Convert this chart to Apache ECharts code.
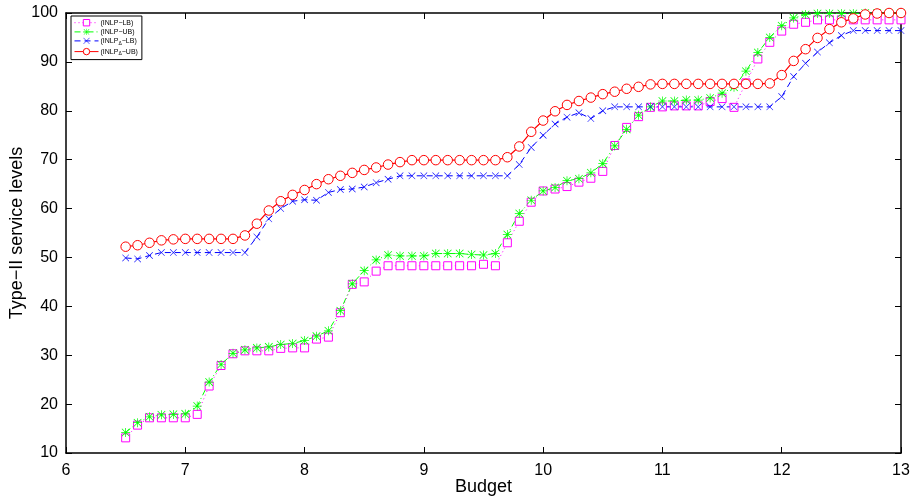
<!DOCTYPE html>
<html>
<head>
<meta charset="utf-8">
<script src="https://cdn.jsdelivr.net/npm/echarts@6/dist/echarts.min.js"></script>
<style>
    html, body { margin: 0; padding: 0; background: #fff; }
    #chart { width: 919px; height: 499px; }
</style>
</head>
<body>
<div id="chart"></div>
<script>
    // budget values 6.5 .. 13.0
    const budget = [
        6.5, 6.6, 6.7, 6.8, 6.9, 7.0, 7.1, 7.2, 7.3, 7.4, 7.5, 7.6, 7.7, 7.8, 7.9,
        8.0, 8.1, 8.2, 8.3, 8.4, 8.5, 8.6, 8.7, 8.8, 8.9, 9.0, 9.1, 9.2, 9.3, 9.4,
        9.5, 9.6, 9.7, 9.8, 9.9, 10.0, 10.1, 10.2, 10.3, 10.4, 10.5, 10.6, 10.7, 10.8, 10.9,
        11.0, 11.1, 11.2, 11.3, 11.4, 11.5, 11.6, 11.7, 11.8, 11.9, 12.0, 12.1, 12.2, 12.3, 12.4,
        12.5, 12.6, 12.7, 12.8, 12.9, 13.0
    ];
    const inlpLB = [
        13.1, 15.7, 17.2, 17.2, 17.2, 17.2, 17.9, 23.7, 27.9, 30.3, 30.9, 30.9, 30.9, 31.4, 31.5,
        31.5, 33.3, 33.7, 38.7, 44.5, 45.0, 47.2, 48.3, 48.3, 48.3, 48.3, 48.3, 48.3, 48.3, 48.3,
        48.6, 48.3, 53.0, 57.4, 61.3, 63.6, 64.0, 64.5, 65.4, 66.2, 67.6, 72.9, 76.6, 78.8, 80.7,
        80.8, 81.0, 81.0, 81.0, 81.9, 82.5, 80.7, 85.7, 90.6, 94.0, 96.3, 97.7, 98.1, 98.6, 98.6,
        98.6, 98.6, 98.6, 98.6, 98.6, 98.6
    ];
    const inlpUB = [
        14.2, 16.2, 17.4, 17.8, 17.9, 18.0, 19.6, 24.5, 28.1, 30.4, 31.1, 31.5, 31.7, 32.2, 32.4,
        33.0, 33.9, 35.0, 39.1, 44.6, 47.3, 49.5, 50.5, 50.3, 50.3, 50.3, 50.8, 50.8, 50.8, 50.6,
        50.5, 50.8, 54.7, 59.0, 61.7, 63.6, 64.3, 65.7, 66.1, 67.3, 69.2, 72.8, 76.2, 79.1, 80.8,
        82.0, 82.0, 82.2, 82.2, 82.6, 83.6, 84.8, 88.1, 91.9, 95.0, 97.4, 99.0, 99.7, 99.9, 99.9,
        99.9, 99.9, 100, 100, 100, 100
    ];
    const inlpDeltaLB = [
        49.9, 49.7, 50.4, 51.0, 51.0, 51.0, 51.0, 51.0, 51.0, 51.0, 51.0, 54.2, 57.9, 60.0, 61.5,
        61.8, 61.7, 63.3, 63.9, 64.0, 64.4, 65.3, 66.0, 66.7, 66.7, 66.7, 66.7, 66.7, 66.7, 66.7,
        66.7, 66.7, 66.7, 69.0, 72.5, 75.0, 77.3, 78.7, 79.6, 78.4, 80.0, 80.8, 80.8, 80.8, 80.8,
        80.8, 80.8, 80.8, 80.8, 80.8, 80.8, 80.8, 80.8, 80.8, 80.8, 82.9, 87.0, 89.7, 92.0, 93.9,
        95.4, 96.4, 96.4, 96.4, 96.4, 96.4
    ];
    const inlpDeltaUB = [
        52.2, 52.5, 53.0, 53.5, 53.7, 53.8, 53.8, 53.8, 53.8, 53.8, 54.5, 56.9, 59.6, 61.5, 62.8,
        63.8, 65.0, 66.0, 66.7, 67.3, 67.9, 68.4, 69.0, 69.5, 69.9, 69.9, 69.9, 69.9, 69.9, 69.9,
        69.9, 69.9, 70.5, 72.7, 75.7, 78.0, 79.9, 81.2, 82.0, 82.7, 83.4, 83.9, 84.5, 84.9, 85.4,
        85.5, 85.5, 85.5, 85.5, 85.5, 85.5, 85.5, 85.5, 85.5, 85.6, 87.3, 90.2, 92.6, 94.9, 96.7,
        98.1, 98.9, 99.7, 99.9, 100, 100
    ];
    const xTicks = [6, 7, 8, 9, 10, 11, 12, 13];
    const yTicks = [10, 20, 30, 40, 50, 60, 70, 80, 90, 100];

    const legendNames = {
        lb: '(INLP\u2212LB)',
        ub: '(INLP\u2212UB)',
        dlb: '(INLP{sub|\u0394}\u2212LB)',
        dub: '(INLP{sub|\u0394}\u2212UB)'
    };

    // asterisk and cross markers (matlab style)
    const starPath = 'path://M4.6 0 H5.4 V10 H4.6 Z M0 4.6 H10 V5.4 H0 Z M1.1 0.5 L9.5 8.9 L8.9 9.5 L0.5 1.1 Z M8.9 0.5 L9.5 1.1 L1.1 9.5 L0.5 8.9 Z';
    const crossPath = 'path://M0.6 0 L10 9.4 L9.4 10 L0 0.6 Z M9.4 0 L10 0.6 L0.6 10 L0 9.4 Z';

    const zip = ys => budget.map((x, i) => [x, ys[i]]);

    const font = '"Liberation Sans", Arial, sans-serif';

    const axisCommon = {
        type: 'value',
        nameMoveOverlap: false,
        axisLine: { show: true, onZero: false, lineStyle: { color: '#000', width: 1.5 } },
        axisTick: { show: true, inside: true, length: 6, lineStyle: { color: '#000', width: 1 } },
        splitLine: { show: false }
    };

    const chart = echarts.init(document.getElementById('chart'));
    chart.setOption({
        animation: false,
        backgroundColor: '#fff',
        grid: { left: 66, right: 18, top: 13, bottom: 46, outerBoundsMode: 'none' },
        legend: {
            orient: 'vertical',
            left: 71,
            top: 16,
            padding: [3, 4, 3, 3],
            itemGap: 2,
            itemWidth: 24,
            itemHeight: 8,
            borderColor: '#000',
            borderWidth: 1,
            backgroundColor: '#fff',
            lineStyle: { width: 1 },
            itemStyle: { borderWidth: 1 },
            formatter: n => legendNames[n],
            textStyle: {
                fontFamily: font, fontSize: 7, color: '#000', padding: [0, 0, 0, -3],
                rich: { sub: { fontSize: 5, padding: [5, 0, 0, 0], fontFamily: font, color: '#000' } }
            },
            data: ['lb', 'ub', 'dlb', 'dub']
        },
        xAxis: [
            Object.assign({}, axisCommon, {
                min: 6, max: 13, interval: 1,
                position: 'bottom',
                name: 'Budget',
                nameLocation: 'middle',
                nameGap: 25,
                nameTextStyle: { fontFamily: font, fontSize: 18, color: '#000' },
                axisLabel: { fontFamily: font, fontSize: 16, color: '#000', margin: 10,
                    customValues: xTicks }
            }),
            Object.assign({}, axisCommon, {
                min: 6, max: 13, interval: 1,
                position: 'top',
                axisLabel: { show: false }
            })
        ],
        yAxis: [
            Object.assign({}, axisCommon, {
                min: 10, max: 100, interval: 10,
                position: 'left',
                name: 'Type\u2212II service levels',
                nameLocation: 'middle',
                nameGap: 40,
                nameTextStyle: { fontFamily: font, fontSize: 18, color: '#000' },
                axisLabel: { fontFamily: font, fontSize: 16, color: '#000', margin: 8,
                    customValues: yTicks }
            }),
            Object.assign({}, axisCommon, {
                min: 10, max: 100, interval: 10,
                position: 'right',
                axisLabel: { show: false }
            })
        ],
        series: [
            {
                name: 'lb', type: 'line', data: zip(inlpLB),
                symbol: 'rect', symbolSize: 8,
                itemStyle: { color: '#fff', borderColor: '#ff00ff', borderWidth: 1 },
                lineStyle: { color: '#ff00ff', width: 1, type: [1, 3] }
            },
            {
                name: 'ub', type: 'line', data: zip(inlpUB),
                symbol: starPath, symbolSize: 9,
                itemStyle: { color: '#00ff00' },
                lineStyle: { color: '#00ff00', width: 1, type: [6, 3, 1, 3] }
            },
            {
                name: 'dlb', type: 'line', data: zip(inlpDeltaLB),
                symbol: crossPath, symbolSize: 7,
                itemStyle: { color: '#0000ff' },
                lineStyle: { color: '#0000ff', width: 1, type: [6, 4] }
            },
            {
                name: 'dub', type: 'line', data: zip(inlpDeltaUB),
                symbol: 'circle', symbolSize: 9.5,
                itemStyle: { color: '#fff', borderColor: '#ff0000', borderWidth: 1 },
                lineStyle: { color: '#ff0000', width: 1.2 }
            }
        ]
    });
</script>
</body>
</html>
